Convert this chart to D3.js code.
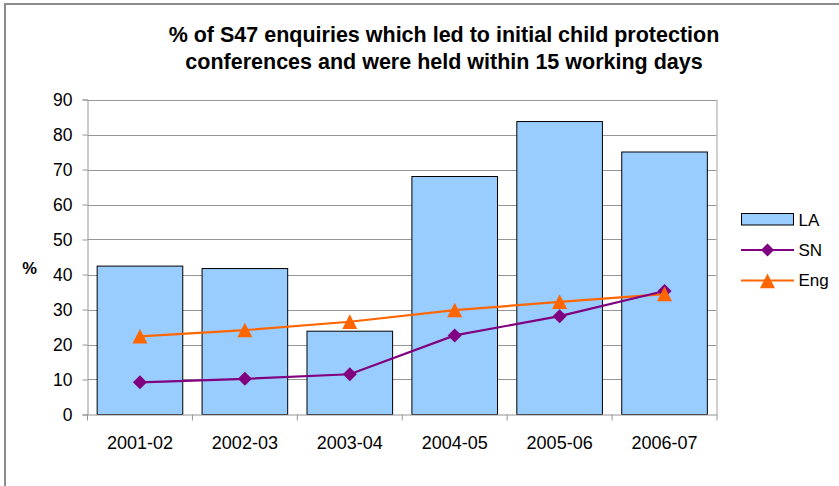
<!DOCTYPE html>
<html><head><meta charset="utf-8">
<script src="https://cdn.jsdelivr.net/npm/d3@7"></script>
<style>body{margin:0;background:#fff}svg{display:block;font-family:"Liberation Sans",Arial,sans-serif}</style>
</head><body>
<script>
const categories = ["2001-02","2002-03","2003-04","2004-05","2005-06","2006-07"];
const laValues = [42.4, 41.7, 23.8, 68.0, 83.7, 75.0];
const snValues = [9.2, 10.2, 11.5, 22.6, 28.1, 35.3];
const engValues = [22.3, 24.1, 26.5, 29.8, 32.2, 34.4];
const yTicks = [0,10,20,30,40,50,60,70,80,90];
const titleLines = ["% of S47 enquiries which led to initial child protection","conferences and were held within 15 working days"];
const legendLabels = ["LA","SN","Eng"];

(function(){
const W=839,H=486;
const svg=d3.select("body").append("svg").attr("width",W).attr("height",H);
svg.append("rect").attr("x",5).attr("y",4).attr("width",W).attr("height",H).attr("fill","#fff").attr("stroke","#8c8c8c").attr("stroke-width",2);

const pl=87.5,pr=717,pt=99.5,pb=414.5;
const x=d3.scaleBand().domain(categories).range([pl,pr]).padding(0);
const y=d3.scaleLinear().domain([0,90]).range([pb,pt]);

svg.append("g").selectAll("text").data(titleLines).join("text")
 .attr("x",444).attr("y",(d,i)=>42+i*26.5).attr("text-anchor","middle")
 .attr("font-size",21.5).attr("font-weight","bold").attr("fill","#000").text(d=>d);

svg.append("g").selectAll("line").data(yTicks.filter(t=>t>0)).join("line")
 .attr("x1",pl).attr("x2",pr).attr("y1",d=>Math.round(y(d))+0.5).attr("y2",d=>Math.round(y(d))+0.5)
 .attr("stroke","#969696").attr("stroke-width",1);
svg.append("line").attr("x1",pr).attr("x2",pr).attr("y1",pt).attr("y2",pb).attr("stroke","#c0c0c0").attr("stroke-width",1.5);

const inset=x.bandwidth()*0.092;
svg.append("g").selectAll("rect").data(laValues).join("rect")
 .attr("x",(d,i)=>x(categories[i])+inset).attr("width",x.bandwidth()-2*inset)
 .attr("y",d=>y(d)).attr("height",d=>pb-y(d))
 .attr("fill","#99ccff").attr("stroke","#000").attr("stroke-width",1);

const yAxis=svg.append("g").attr("transform",`translate(${pl},0)`)
 .call(d3.axisLeft(y).tickValues(yTicks).tickSize(5).tickPadding(10).tickFormat(d3.format("d")));
yAxis.select(".domain").attr("stroke","#969696");
yAxis.selectAll(".tick line").attr("stroke","#969696");
yAxis.selectAll("text").attr("font-size",17.5).attr("fill","#000").attr("font-family","Liberation Sans, Arial, sans-serif");

const xAxis=svg.append("g").attr("transform",`translate(0,${pb})`)
 .call(d3.axisBottom(x).tickSize(0).tickPadding(0));
xAxis.select(".domain").attr("stroke","#969696");
xAxis.selectAll("text").attr("dy",null).attr("y",34.5).attr("font-size",18).attr("fill","#000").attr("font-family","Liberation Sans, Arial, sans-serif");
svg.append("g").selectAll("line").data(d3.range(categories.length+1)).join("line")
 .attr("x1",i=>pl+i*x.bandwidth()).attr("x2",i=>pl+i*x.bandwidth())
 .attr("y1",pb).attr("y2",pb+6).attr("stroke","#969696");

svg.append("text").attr("x",29.5).attr("y",274).attr("text-anchor","middle").attr("font-size",16.5).attr("font-weight","bold").text("%");

const cx=i=>x(categories[i])+x.bandwidth()/2;
const line=d3.line().x((d,i)=>cx(i)).y(d=>y(d));
svg.append("path").datum(engValues).attr("d",line).attr("fill","none").attr("stroke","#ff6600").attr("stroke-width",2.2);
svg.append("path").datum(snValues).attr("d",line).attr("fill","none").attr("stroke","#800080").attr("stroke-width",2.2);
const diamond=s=>`M0,${-s}L${s},0L0,${s}L${-s},0Z`;
const tri=s=>`M0,${-s}L${s},${s*0.95}L${-s},${s*0.95}Z`;
svg.append("g").selectAll("path").data(snValues).join("path")
 .attr("transform",(d,i)=>`translate(${cx(i)},${y(d)})`).attr("d",diamond(7)).attr("fill","#800080");
svg.append("g").selectAll("path").data(engValues).join("path")
 .attr("transform",(d,i)=>`translate(${cx(i)},${y(d)})`).attr("d",tri(7.5)).attr("fill","#ff6600");

const lg=svg.append("g");
lg.append("rect").attr("x",741.5).attr("y",213.5).attr("width",52).attr("height",11.5).attr("fill","#99ccff").attr("stroke","#000");
lg.append("line").attr("x1",741).attr("x2",794).attr("y1",250).attr("y2",250).attr("stroke","#800080").attr("stroke-width",2);
lg.append("path").attr("transform","translate(767.5,250)").attr("d",diamond(6.5)).attr("fill","#800080");
lg.append("line").attr("x1",741).attr("x2",794).attr("y1",280.5).attr("y2",280.5).attr("stroke","#ff6600").attr("stroke-width",2);
lg.append("path").attr("transform","translate(767.5,281)").attr("d",tri(7.5)).attr("fill","#ff6600");
lg.selectAll("text").data(legendLabels).join("text")
 .attr("x",798.5).attr("y",(d,i)=>225.5+i*30.3).attr("font-size",17).attr("fill","#000").text(d=>d);
})();
</script>
</body></html>
